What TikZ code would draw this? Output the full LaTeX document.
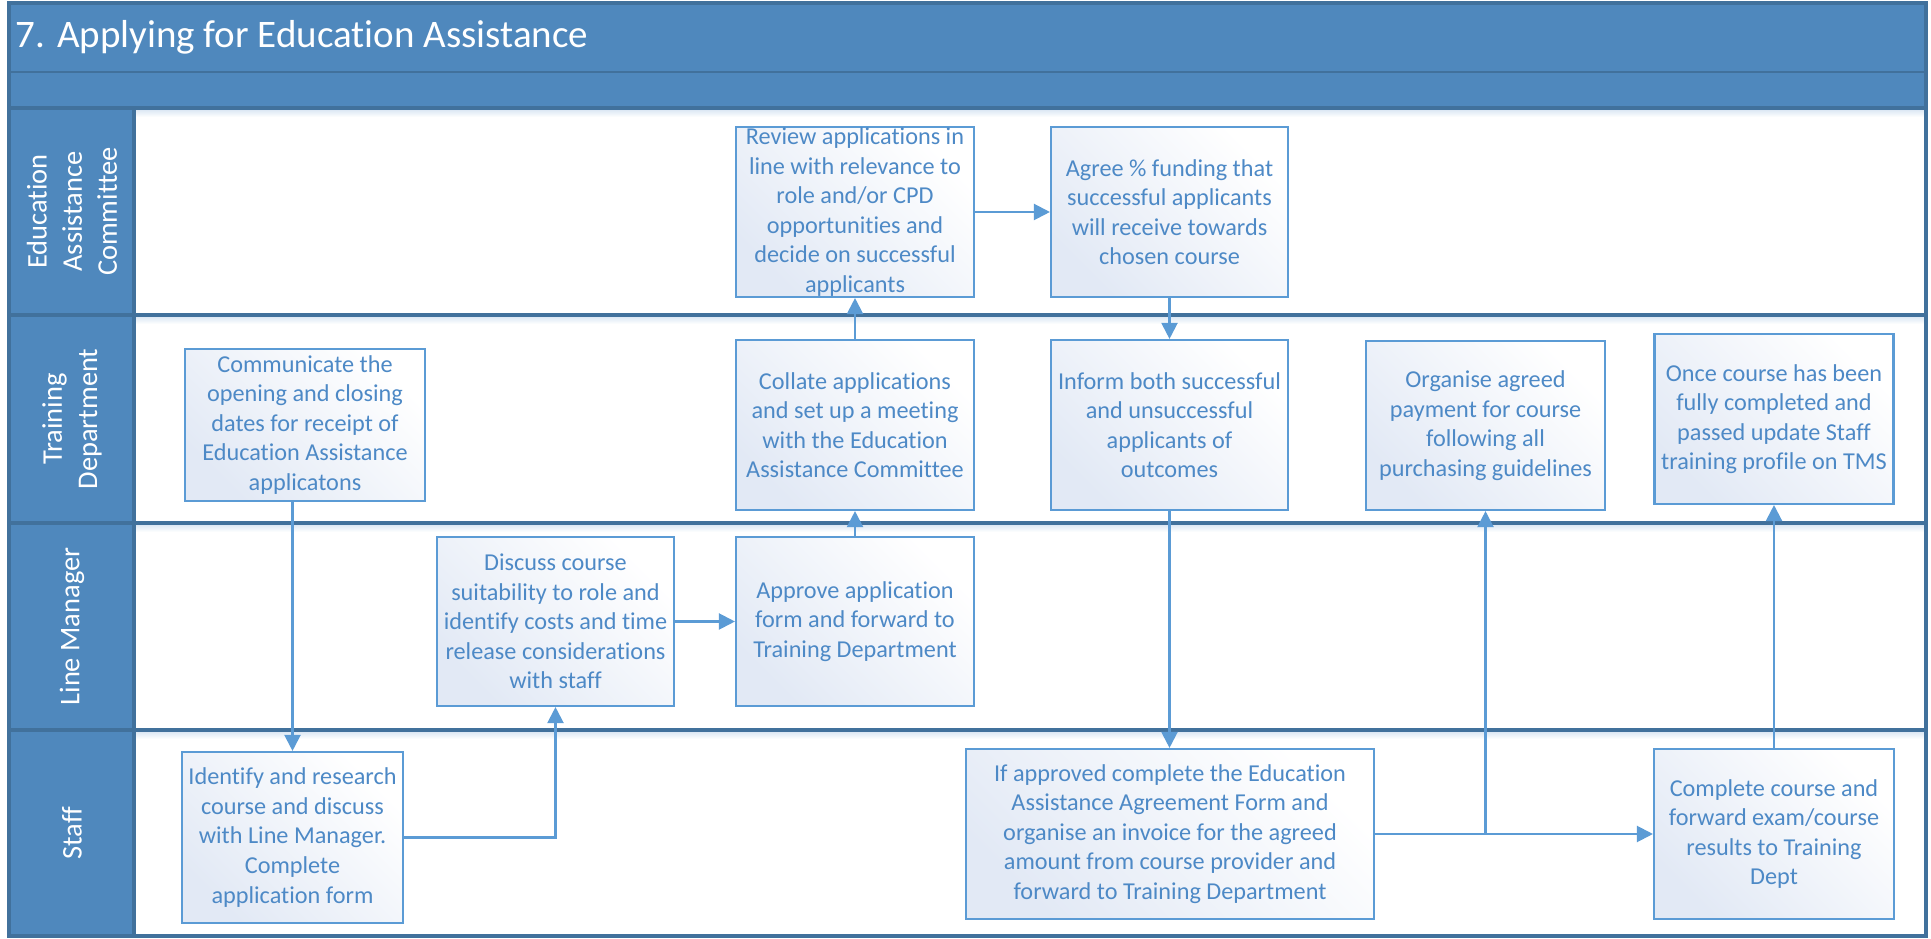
\documentclass[tikz,border=0pt]{standalone}
\usepackage{fontspec}
\setmainfont{Carlito}[Ligatures=NoCommon]
\usetikzlibrary{arrows.meta,calc,positioning}
\definecolor{lanefill}{HTML}{4F88BD}
\definecolor{laneline}{HTML}{41719C}
\definecolor{boxline}{HTML}{5B9BD5}
\definecolor{boxtext}{HTML}{4D89C6}
\definecolor{boxtint}{HTML}{E2E9F5}
\definecolor{shadowtint}{HTML}{D3E2F1}
\newcommand{\titletext}{\fontsize{11.1}{13.4}\selectfont}
\newcommand{\lanetext}{\fontsize{8.1}{10}\selectfont}
\newcommand{\steptext}{\fontsize{6.9}{8.4}\selectfont}
\tikzset{
  >={Triangle[length=1.6mm,width=1.6mm]},
  flow/.style={->,draw=boxline,line width=.6pt},
  stepbox/.style={draw=boxline,line width=.6pt,top color=boxtint,bottom color=white,shading angle=135,align=center,text=boxtext,inner sep=0pt,font=\steptext},
  lanehead/.style={rotate=90,align=center,text=white,font=\lanetext,inner sep=0pt},
  headbar/.style={fill=lanefill,draw=laneline,line width=.8pt},
  divider/.style={draw=laneline,line width=.9pt}
}

\begin{document}
\begin{tikzpicture}[x=1cm,y=1cm]
  \useasboundingbox (0,0) rectangle (19.31,9.38);

  % Title bar and the empty bar below it.
  \path[headbar] (0.09,8.66) rectangle (19.26,9.35);
  \path[headbar] (0.09,8.30) rectangle (19.26,8.66);
  \node[anchor=west,text=white,font=\titletext,inner sep=0pt] (title) at (0.15,9.005) {7. Applying for Education Assistance};

  % Lane header column, dividers with a soft shade beneath.
  \path[headbar] (0.09,0.02) rectangle (1.34,8.30);
  \foreach \y in {8.30,6.23,4.15,2.08} {
    \shade[top color=shadowtint,bottom color=white] (1.35,\y-0.09) rectangle (19.25,\y);
    \draw[divider] (0.09,\y) -- (19.26,\y);
  }
  \draw[divider] (1.34,0.02) -- (1.34,8.30);
  \draw[divider] (0.09,0.02) rectangle (19.26,9.35);

  \node[lanehead] (committee) at (0.72,7.265) {Education\\Assistance\\Committee};
  \node[lanehead] (training) at (0.72,5.19) {Training\\Department};
  \node[lanehead] (linemanager) at (0.72,3.115) {Line Manager};
  \node[lanehead] (staff) at (0.72,1.05) {Staff};

  % Education Assistance Committee lane.
  \node[stepbox,minimum width=2.38cm,minimum height=1.70cm] (review) at (8.55,7.26) {Review applications in\\line with relevance to\\role and/or CPD\\opportunities and\\decide on successful\\applicants};
  \node[stepbox,minimum width=2.37cm,minimum height=1.70cm] (agree) at (11.695,7.26) {Agree \% funding that\\successful applicants\\will receive towards\\chosen course};

  % Training Department lane.
  \node[stepbox,minimum width=2.40cm,minimum height=1.52cm] (communicate) at (3.05,5.13) {Communicate the\\opening and closing\\dates for receipt of\\Education Assistance\\applicatons};
  \node[stepbox,minimum width=2.38cm,minimum height=1.70cm] (collate) at (8.55,5.13) {Collate applications\\and set up a meeting\\with the Education\\Assistance Committee};
  \node[stepbox,minimum width=2.37cm,minimum height=1.70cm] (inform) at (11.695,5.13) {Inform both successful\\and unsuccessful\\applicants of\\outcomes};
  \node[stepbox,minimum width=2.39cm,minimum height=1.69cm] (organise) at (14.855,5.125) {Organise agreed\\payment for course\\following all\\purchasing guidelines};
  \node[stepbox,minimum width=2.39cm,minimum height=1.70cm] (once) at (17.74,5.19) {Once course has been\\fully completed and\\passed update Staff\\training profile on TMS};

  % Line Manager lane.
  \node[stepbox,minimum width=2.37cm,minimum height=1.69cm] (discuss) at (5.555,3.165) {Discuss course\\suitability to role and\\identify costs and time\\release considerations\\with staff};
  \node[stepbox,minimum width=2.38cm,minimum height=1.69cm] (approve) at (8.55,3.165) {Approve application\\form and forward to\\Training Department};

  % Staff lane.
  \node[stepbox,minimum width=2.21cm,minimum height=1.71cm] (identify) at (2.925,1.005) {Identify and research\\course and discuss\\with Line Manager.\\Complete\\application form};
  \node[stepbox,minimum width=4.08cm,minimum height=1.70cm] (ifapproved) at (11.70,1.04) {If approved complete the Education\\Assistance Agreement Form and\\organise an invoice for the agreed\\amount from course provider and\\forward to Training Department};
  \node[stepbox,minimum width=2.40cm,minimum height=1.70cm] (complete) at (17.74,1.04) {Complete course and\\forward exam/course\\results to Training\\Dept};

  % Flow between the steps.
  \draw[flow] (identify.north |- communicate.south) -- (identify.north);
  \draw[flow] (identify.east) -| (discuss.south);
  \draw[flow] (discuss.east) -- (approve.west);
  \draw[flow] (approve.north) -- (collate.south);
  \draw[flow] (collate.north) -- (review.south);
  \draw[flow] (review.east) -- (agree.west);
  \draw[flow] (agree.south) -- (inform.north);
  \draw[flow] (inform.south) -- (inform.south |- ifapproved.north);
  \draw[flow] (ifapproved.east) -- (complete.west);
  \coordinate (split) at (organise.south |- ifapproved.east);
  \draw[flow] (split) -- (organise.south);
  \draw[flow] (complete.north) -- (once.south);
\end{tikzpicture}
\end{document}
